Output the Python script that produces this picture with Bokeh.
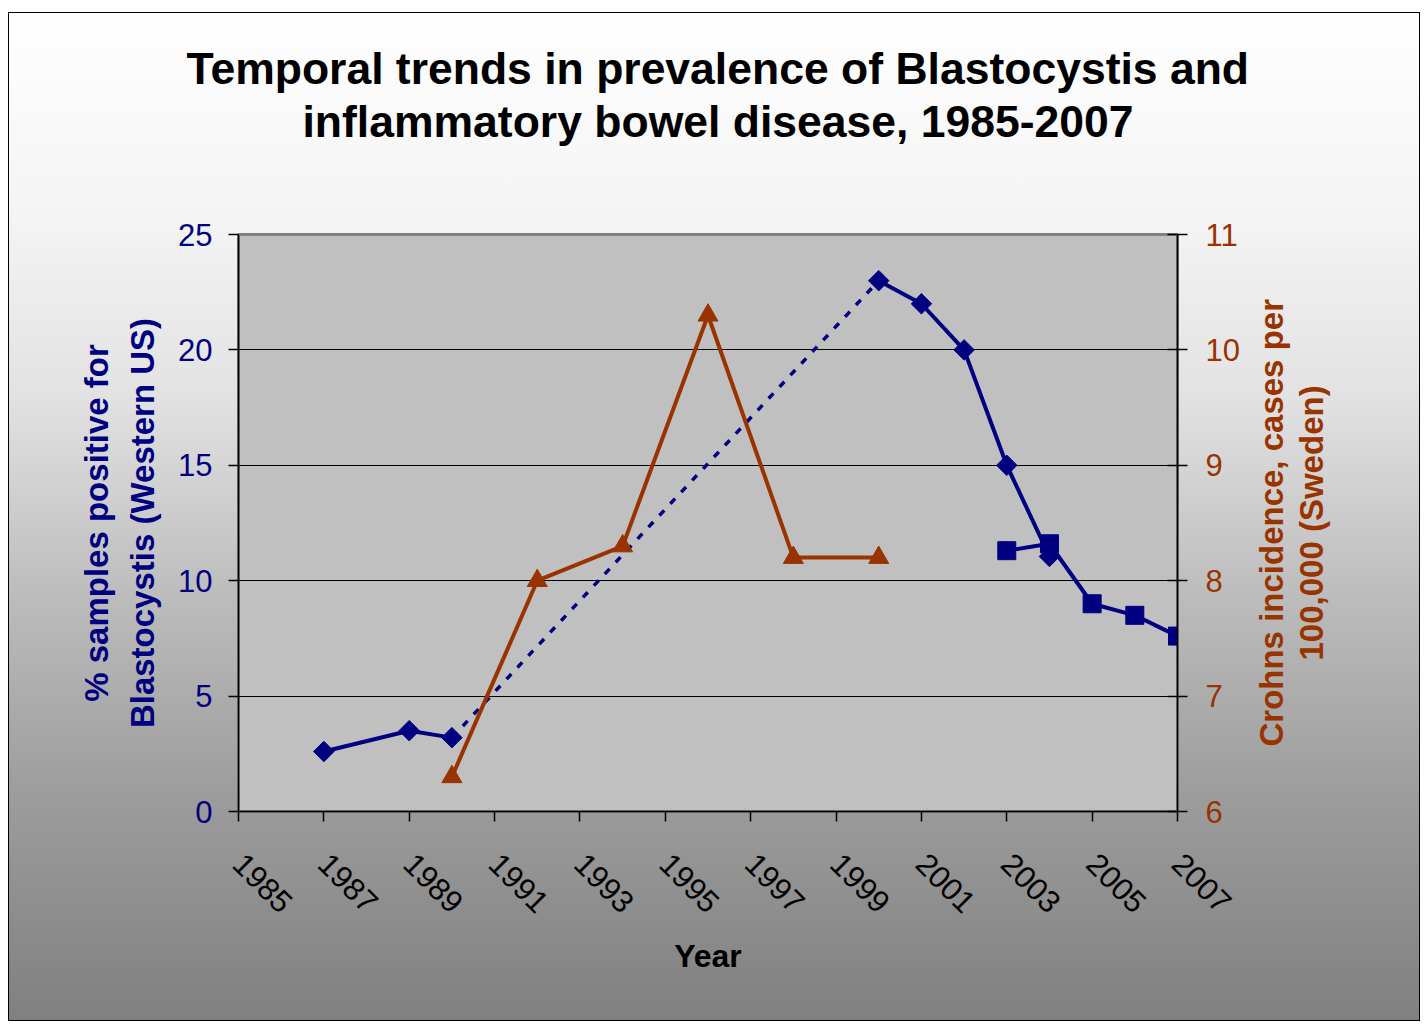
import math
from bokeh.plotting import figure
from bokeh.models import LinearAxis, Range1d, FixedTicker, Title
from bokeh.embed import file_html
from bokeh.resources import INLINE

# ---- data ----
blue_a_years = [1987, 1989, 1990]
blue_a_vals = [2.6, 3.5, 3.2]
gap_years = [1990, 2000]
gap_vals = [3.2, 23.0]
blue_b_years = [2000, 2001, 2002, 2003, 2004]
blue_b_vals = [23.0, 22.0, 20.0, 15.0, 11.05]
square_years = [2003, 2004, 2005, 2006, 2007]
square_vals = [11.3, 11.6, 9.0, 8.5, 7.6]
crohn_years = [1990, 1992, 1994, 1996, 1998, 2000]
crohn_vals = [6.3, 8.0, 8.3, 10.3, 8.2, 8.2]
x_ticks = [1985, 1987, 1989, 1991, 1993, 1995, 1997, 1999, 2001, 2003, 2005, 2007]
left_ticks = [0, 5, 10, 15, 20, 25]
right_ticks = [6, 7, 8, 9, 10, 11]

title_line1 = "Temporal trends in prevalence of Blastocystis and"
title_line2 = "inflammatory bowel disease, 1985-2007"
left_label = "% samples positive for\nBlastocystis (Western US)"
right_label1 = "Crohns incidence, cases per"
right_label2 = "100,000 (Sweden)"
x_label = "Year"

NAVY = "#000080"
BROWN = "#993300"
FONT = "Liberation Sans"

p = figure(width=1424, height=1024,
           x_range=Range1d(1985, 2007), y_range=Range1d(0, 25),
           output_backend="svg", toolbar_location=None, title_location=None,
           min_border_left=238, min_border_right=247,
           min_border_top=234, min_border_bottom=213)
p.extra_y_ranges = {"right": Range1d(6, 11)}
xa = p.below[0]
ya = p.left[0]

p.styles = {
    "background-color": "white",
    "background-image": ("linear-gradient(to bottom, #ffffff 0%, #f4f4f4 20%, #e2e2e2 38%, "
                         "#bcbcbc 58%, #9c9c9c 78%, #808080 100%), linear-gradient(black, black)"),
    "background-position": "9px 13px, 8px 12px",
    "background-size": "1410px 1007px, 1412px 1009px",
    "background-repeat": "no-repeat, no-repeat",
}
p.border_fill_color = None
p.background_fill_color = "#c0c0c0"
p.outline_line_color = "#808080"
p.outline_line_width = 3


def blank_axis(**kw):
    ax = LinearAxis(**kw)
    ax.axis_line_color = None
    ax.major_tick_line_color = None
    ax.minor_tick_line_color = None
    ax.major_tick_out = 0
    ax.major_tick_in = 0
    ax.minor_tick_out = 0
    ax.minor_tick_in = 0
    ax.major_label_standoff = 0
    ax.axis_label_standoff = 0
    return ax


# invisible spacer between the frame and the two title lines
spacer = blank_axis(ticker=FixedTicker(ticks=[1996]))
spacer.major_tick_out = 89
spacer.major_label_overrides = {1996: ""}
spacer.major_label_text_font_size = "1px"
p.add_layout(spacer, "above")

# titles (first added sits nearest to the frame)
t2 = Title(text=title_line2, align="left", offset=64, text_font=FONT,
           text_font_size="44.5px", text_font_style="bold", text_color="black")
t1 = Title(text=title_line1, align="left", offset=-52, text_font=FONT,
           text_font_size="44.5px", text_font_style="bold", text_color="black")
try:
    t2.standoff = 0
    t1.standoff = 4
except AttributeError:
    pass
p.add_layout(t2, "above")
p.add_layout(t1, "above")

# grid
p.xgrid.grid_line_color = None
p.ygrid.ticker = FixedTicker(ticks=left_ticks)
p.ygrid.grid_line_color = "black"
p.ygrid.grid_line_width = 1

# x axis
xa.ticker = FixedTicker(ticks=x_ticks)
xa.major_label_orientation = -math.pi / 4
xa.major_label_text_font = FONT
xa.major_label_text_font_size = "31px"
xa.major_label_text_color = "black"
xa.major_label_standoff = 37
xa.major_tick_out = 10
xa.major_tick_in = 0
xa.minor_tick_line_color = None
xa.axis_line_color = "black"
xa.axis_line_width = 1.5
xa.major_tick_line_width = 1.5
xa.axis_label = x_label
xa.axis_label_text_font = FONT
xa.axis_label_text_font_size = "32px"
xa.axis_label_text_font_style = "bold"
xa.axis_label_text_color = "black"
xa.axis_label_standoff = 12

# left axis
ya.ticker = FixedTicker(ticks=left_ticks)
ya.major_label_text_font = FONT
ya.major_label_text_font_size = "31px"
ya.major_label_text_color = NAVY
ya.major_label_standoff = 16
ya.major_tick_out = 10
ya.major_tick_in = 0
ya.minor_tick_line_color = None
ya.axis_line_color = "black"
ya.axis_line_width = 1.5
ya.major_tick_line_width = 1.5
ya.axis_label = left_label
ya.axis_label_text_font = FONT
ya.axis_label_text_font_size = "33px"
ya.axis_label_text_font_style = "bold"
ya.axis_label_text_color = NAVY
ya.axis_label_text_line_height = 1.25
ya.axis_label_standoff = 14

# right axis: ticks and numbers
ra = LinearAxis(y_range_name="right")
ra.ticker = FixedTicker(ticks=right_ticks)
ra.major_label_text_font = FONT
ra.major_label_text_font_size = "31px"
ra.major_label_text_color = BROWN
ra.major_label_standoff = 18
ra.major_tick_out = 10
ra.major_tick_in = 10
ra.minor_tick_line_color = None
ra.axis_line_color = "black"
ra.axis_line_width = 1.5
ra.major_tick_line_width = 1.5
p.add_layout(ra, "right")

# right axis title: two lines reading upwards, each centred on the plot height
# (each line is the single label of an otherwise invisible axis; the label starts
#  at the given value and runs upwards)
for txt, start_val, standoff in [(right_label1, 6.563, 29), (right_label2, 7.3085, 0)]:
    ax = blank_axis(y_range_name="right", ticker=FixedTicker(ticks=[start_val]))
    ax.major_label_overrides = {start_val: txt}
    ax.major_label_orientation = math.pi / 2
    ax.major_label_standoff = standoff
    ax.major_label_text_font = FONT
    ax.major_label_text_font_size = "33px"
    ax.major_label_text_font_style = "bold"
    ax.major_label_text_color = BROWN
    p.add_layout(ax, "right")

# series
p.line(gap_years, gap_vals, line_color=NAVY, line_width=3.5, line_dash="7 9")
p.line(blue_a_years, blue_a_vals, line_color=NAVY, line_width=4)
p.line(blue_b_years, blue_b_vals, line_color=NAVY, line_width=4)
p.scatter(blue_a_years + blue_b_years, blue_a_vals + blue_b_vals, marker="square",
          angle=math.pi / 4, size=14.5, fill_color=NAVY, line_color=NAVY)
p.line(square_years, square_vals, line_color=NAVY, line_width=4)
p.scatter(square_years, square_vals, marker="square", size=18,
          fill_color=NAVY, line_color=NAVY)
p.line(crohn_years, crohn_vals, line_color=BROWN, line_width=4, y_range_name="right")
p.scatter(crohn_years, crohn_vals, marker="triangle", size=20,
          fill_color=BROWN, line_color=BROWN, y_range_name="right")

open("out.html", "w").write(file_html(p, INLINE))
